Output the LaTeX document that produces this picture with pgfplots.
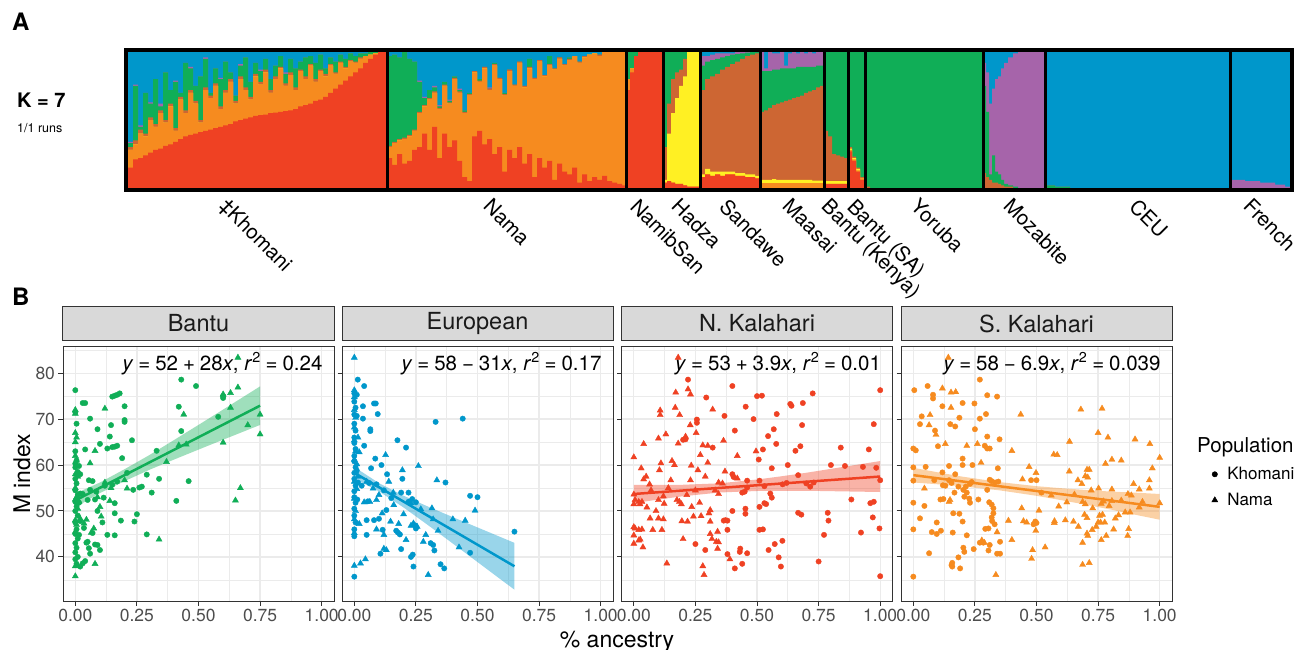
\documentclass[border=0pt]{standalone}
\usepackage{fontspec}
\setmainfont{TeX Gyre Heros}
\usepackage{pgfplots}
\pgfplotsset{compat=1.18}
\usepackage{pgfplotstable}
\definecolor{cRed}{HTML}{EF4123}
\definecolor{cOrange}{HTML}{F68B1F}
\definecolor{cYellow}{HTML}{FFF023}
\definecolor{cBrown}{HTML}{CD6633}
\definecolor{cGreen}{HTML}{10AE57}
\definecolor{cPurple}{HTML}{A664AA}
\definecolor{cBlue}{HTML}{0097CB}
\definecolor{grid92}{HTML}{EBEBEB}
\definecolor{g20}{HTML}{333333}
\definecolor{g30}{HTML}{4D4D4D}
\definecolor{g85}{HTML}{D9D9D9}
\definecolor{g10}{HTML}{1A1A1A}

\pgfplotstableread{
x cr co cy cb cg cp
128 .15 .28 .28 .30 .33 .34
133 .21 .32 .32 .35 .75 .76
138 .22 .40 .40 .43 .45 .46
143 .24 .38 .38 .40 .70 .70
148 .26 .50 .50 .52 .62 .63
153 .28 .45 .45 .47 .80 .80
158 .29 .55 .55 .57 .60 .62
163 .31 .48 .48 .50 .85 .85
168 .32 .60 .60 .62 .72 .72
173 .34 .42 .42 .44 .78 .79
178 .36 .65 .65 .67 .70 .70
183 .38 .55 .55 .57 .92 .92
188 .39 .70 .70 .72 .88 .89
193 .40 .62 .62 .64 .75 .75
198 .41 .48 .48 .50 .82 .82
203 .42 .72 .72 .74 .95 .96
208 .43 .66 .66 .68 .70 .70
213 .44 .75 .75 .77 .88 .88
218 .45 .58 .58 .60 .80 .81
223 .46 .70 .70 .72 .93 .93
228 .47 .78 .78 .80 .85 .85
233 .49 .62 .62 .64 .68 .68
238 .50 .80 .80 .82 .90 .91
243 .51 .72 .72 .74 .96 .96
248 .52 .65 .65 .67 .78 .78
253 .53 .82 .82 .84 .92 .92
258 .535 .76 .76 .78 .86 .87
263 .54 .85 .85 .87 .95 .95
268 .55 .70 .70 .72 .80 .80
273 .555 .80 .80 .82 .90 .90
278 .56 .88 .88 .89 .97 .97
283 .565 .75 .75 .77 .84 .85
288 .57 .83 .83 .85 .95 .95
293 .58 .72 .72 .74 .88 .88
298 .60 .86 .86 .87 .93 .93
303 .61 .80 .80 .82 .96 .96
308 .62 .90 .90 .91 .97 .97
313 .64 .78 .78 .80 .92 .92
318 .65 .86 .86 .87 .98 .98
323 .67 .82 .82 .84 .88 .88
328 .70 .90 .90 .91 .96 .96
333 .73 .84 .84 .85 .93 .93
338 .76 .92 .92 .93 .98 .98
343 .79 .88 .88 .89 .95 .95
348 .82 .93 .93 .94 .99 .99
353 .85 .92 .92 .93 .97 .97
358 .88 .95 .95 .96 .99 .99
363 .92 .97 .97 .97 .99 .99
368 .95 .98 .98 .98 1 1
373 .98 .99 .99 .99 1 1
378 1 1 1 1 1 1
383 1 1 1 1 1 1
387 .22 .30 .30 .31 .97 .97
392 .17 .33 .33 .34 .98 .98
397 .25 .35 .35 .36 .96 .96
402 .18 .36 .36 .37 1 1
407 .20 .38 .38 .39 .95 .95
412 .28 .42 .42 .43 .93 .93
417 .30 .55 .55 .56 .78 .79
422 .40 .60 .60 .61 .66 .67
427 .28 .65 .65 .66 .72 .72
432 .45 .70 .70 .71 .74 .75
437 .22 .58 .58 .59 .60 .61
442 .40 .75 .75 .76 .78 .78
447 .30 .62 .62 .63 .64 .65
452 .35 .80 .80 .81 .82 .82
457 .20 .70 .70 .71 .72 .73
462 .08 .55 .55 .56 .57 .57
467 .05 .68 .68 .69 .70 .70
472 .38 .85 .85 .86 .86 .86
477 .42 .78 .78 .79 .80 .80
482 .32 .88 .88 .89 .89 .89
487 .36 .72 .72 .73 .73 .74
492 .25 .90 .90 .91 .92 .92
497 .30 .80 .80 .81 .81 .81
502 .12 .68 .68 .69 .70 .70
507 .28 .86 .86 .87 .87 .87
512 .22 .75 .75 .76 .76 .76
517 .30 .92 .92 .93 .93 .93
522 .18 .74 .74 .75 .75 .75
527 .25 .88 .88 .89 .95 .95
532 .08 .80 .80 .81 .81 .81
537 .22 .93 .93 .94 .94 .94
542 .15 .82 .82 .83 .83 .83
547 .20 .90 .90 .91 .97 .97
552 .06 .87 .87 .88 .88 .88
557 .18 .95 .95 .96 .96 .96
562 .12 .90 .90 .91 .91 .91
567 .10 .94 .94 .95 .96 .96
572 .15 .97 .97 .97 .97 .97
577 .04 .92 .92 .93 .93 .93
582 .10 .96 .96 .97 .97 .97
587 .05 .98 .98 .98 .98 .98
592 .08 .99 .99 .99 .99 .99
597 .06 .97 .97 .98 .98 .98
602 .09 1 1 1 1 1
607 .05 1 1 1 1 1
612 .04 1 1 1 1 1
617 .03 1 1 1 1 1
622 .02 1 1 1 1 1
626 .72 .80 .80 .80 1 1
630 .85 .88 .88 .88 1 1
634 .97 .97 .97 .97 1 1
638 1 1 1 1 1 1
663 .04 .04 .06 .30 1 1
667 .05 .05 .40 .62 1 1
671 .04 .04 .55 .80 1 1
675 .03 .03 .66 .85 1 1
679 .03 .03 .75 .87 1 1
683 .02 .02 .82 .95 1 1
687 .01 .01 1 1 1 1
700 .08 .08 .10 .72 .90 .97
705 .10 .10 .14 .80 .93 .97
710 .09 .09 .12 .82 .94 .98
715 .10 .10 .12 .84 .95 .99
720 .09 .09 .12 .87 .96 .99
725 .10 .10 .12 .89 .97 .99
730 .10 .10 .12 .91 .98 .99
735 .09 .09 .11 .93 .985 1
740 .09 .09 .11 .95 .99 1
745 .08 .08 .10 .97 .995 1
750 .08 .08 .10 .98 1 1
755 .07 .07 .09 .99 1 1
760 0 .035 .06 .56 .86 1
764 0 .035 .06 .57 .86 .88
768 0 .035 .06 .59 .86 1
772 0 .035 .065 .61 .87 .99
776 0 .035 .06 .62 .87 .99
780 0 .035 .06 .63 .88 1
784 0 .035 .06 .64 .88 .90
788 0 .035 .06 .65 .88 .99
792 0 .035 .06 .66 .88 1
796 0 .035 .06 .67 .89 .99
800 0 .035 .06 .68 .89 1
804 0 .035 .06 .70 .89 .99
808 0 .035 .06 .71 .89 1
812 0 .035 .055 .72 .89 .99
816 0 .035 .055 .74 .90 1
820 0 .035 .055 .75 .90 1
824 .03 .03 .05 .42 1 1
828 .03 .03 .05 .38 1 1
832 .03 .03 .05 .25 1 1
836 .03 .03 .05 .24 1 1
840 .03 .03 .05 .23 1 1
844 .03 .03 .05 .22 1 1
848 .27 .28 .29 .30 1 1
852 .20 .21 .22 .23 1 1
856 .12 .13 .14 .15 1 1
860 .06 .07 .07 .08 1 1
865 0 0 0 .01 1 1
870 0 0 0 0 1 1
983 0 0 0 .11 .75 .92
986 0 0 0 .08 .56 .85
989 0 0 0 .06 .10 .62
992 0 0 0 .04 .24 .73
995 0 0 0 .04 .12 .80
998 0 0 0 .03 .10 .82
1001 0 0 0 .02 .06 .88
1004 0 0 0 .01 .03 .92
1008 0 0 0 .01 .02 .96
1013 0 0 0 0 .01 .99
1018 0 0 0 0 0 1
1045 0 0 0 0 .02 .02
1055 0 0 0 0 .01 .01
1070 0 0 0 0 0 0
1230 0 0 0 0 0 .06
1245 0 0 0 0 0 .05
1260 0 0 0 0 0 .04
1275 0 0 0 0 0 .025
1285 0 0 0 0 0 .01
1290 0 0 0 0 0 .01
}\admix

\newcommand{\eqsp}{\hspace{0.24em}}
\tikzset{eq/.style={anchor=base east, inner sep=0pt, font=\fontsize{20.5}{22}\selectfont}}
\pgfplotsset{
  sk/.style={
    scale only axis, width=271pt, height=254pt,
    xmin=-0.05, xmax=1.05, ymin=30.4, ymax=85.7,
    xtick={0,0.25,0.5,0.75,1}, xticklabels={0.00,0.25,0.50,0.75,1.00},
    ytick={40,50,60,70,80},
    minor xtick={0.125,0.375,0.625,0.875},
    minor ytick={35,45,55,65,75,85},
    grid=both,
    major grid style={grid92, line width=1.3pt},
    minor grid style={grid92, line width=0.65pt},
    axis line style={g20, line width=1pt},
    tick align=outside, major tick length=4.5pt, minor tick length=0pt,
    tick pos=left,
    tick style={g20, line width=1pt},
    ticklabel style={font=\fontsize{17.5}{20}\selectfont, text=g30},
    /pgf/number format/assume math mode=true,
    title style={at={(0.5,1)}, anchor=south, minimum width=271pt, minimum height=34pt,
      inner sep=0pt, fill=g85, draw=g20, line width=1pt,
      font=\fontsize{23.5}{25}\selectfont, text=g10},
  },
  circ/.style={only marks, mark=*, mark size=2.7pt, #1, mark options={draw=none, fill=#1}, forget plot},
  tri/.style={only marks, mark=triangle*, mark size=3.5pt, #1, mark options={draw=none, fill=#1}, forget plot},
  band/.style={fill=#1, draw=none, fill opacity=0.4, forget plot},
  fit/.style={#1, line width=2.5pt, forget plot},
}

\begin{document}
\begin{tikzpicture}
\path[use as bounding box] (0,0) rectangle (1298pt,-650pt);

% ---------- Panel A ----------
\begin{axis}[at={(126pt,-190pt)}, anchor=south west, scale only axis,
  width=1165.5pt, height=140pt, xmin=126, xmax=1291.5, ymin=-0.0147, ymax=1.0147,
  xtick=\empty, ytick=\empty, axis line style={line width=4pt, black}, axis on top,
  extra x ticks={387,626,663,700,760,824,848,865,983,1045,1230}, extra x tick labels={},
  extra x tick style={grid=major, major grid style={line width=3pt, black}, major tick length=0pt}]
\addplot[const plot, fill=cBlue, draw=none] coordinates {(128,1) (1290,1)} \closedcycle;
\addplot[const plot, fill=cPurple, draw=none] table[x=x,y=cp]{\admix} \closedcycle;
\addplot[const plot, fill=cGreen, draw=none] table[x=x,y=cg]{\admix} \closedcycle;
\addplot[const plot, fill=cBrown, draw=none] table[x=x,y=cb]{\admix} \closedcycle;
\addplot[const plot, fill=cYellow, draw=none] table[x=x,y=cy]{\admix} \closedcycle;
\addplot[const plot, fill=cOrange, draw=none] table[x=x,y=co]{\admix} \closedcycle;
\addplot[const plot, fill=cRed, draw=none] table[x=x,y=cr]{\admix} \closedcycle;
\end{axis}

\node[anchor=north west, inner sep=0pt, font=\bfseries\fontsize{24}{26}\selectfont] at (12pt,-13pt) {A};
\node[anchor=base west, inner sep=0pt, font=\bfseries\fontsize{20}{22}\selectfont] at (17pt,-108pt) {K = 7};
\node[anchor=base west, inner sep=0pt, font=\fontsize{12.5}{14}\selectfont] at (17pt,-133pt) {1/1 runs};

\begin{scope}[every node/.style={rotate=-45, anchor=north west, inner sep=0pt, font=\fontsize{20.5}{22}\selectfont}]
\node at (229pt,-197pt) {‡Khomani};
\node at (493pt,-197pt) {Nama};
\node at (640pt,-197pt) {NamibSan};
\node at (681pt,-197pt) {Hadza};
\node at (729pt,-197pt) {Sandawe};
\node at (792pt,-197pt) {Maasai};
\node at (831pt,-197pt) {Bantu (Kenya)};
\node at (857pt,-197pt) {Bantu (SA)};
\node at (920pt,-197pt) {Yoruba};
\node at (1013pt,-197pt) {Mozabite};
\node at (1139pt,-197pt) {CEU};
\node at (1253pt,-197pt) {French};
\end{scope}

\node[anchor=north west, inner sep=0pt, font=\bfseries\fontsize{24}{26}\selectfont] at (12pt,-288pt) {B};

% ---------- Panel B1: Bantu ----------
\begin{axis}[sk, at={(63pt,-601pt)}, anchor=south west, title={Bantu}]
\addplot[circ=cGreen] coordinates {
(0,76.3)(0,71.5)(0.005,69)(0,63)(0.005,61)(0,59.5)(0.01,58.5)(0,57)(0.005,56)(0,54.5)(0.01,53.5)(0,52)(0.005,51)(0,50)(0.01,49)(0,47.5)(0.005,46)(0,45)(0.01,44)(0,43)(0.005,42)(0,41)(0.01,40)(0,39.5)(0.005,38.5)(0,60.3)(0.015,59.8)(0.02,58)(0.02,53.8)(0.015,51.8)(0.02,47.8)(0.015,44.8)
(0.03,73.5)(0.04,73.5)(0.06,70.1)(0.09,67.8)(0.04,63.4)(0.10,64.6)(0.15,74.9)(0.16,75.1)(0.17,75.3)(0.18,75.6)(0.20,72.8)(0.20,69.8)(0.20,69.4)(0.145,68.7)(0.14,66.2)(0.13,63.6)(0.15,63.9)(0.16,64)(0.17,64.2)(0.23,65.4)(0.19,61.5)(0.21,58.3)(0.17,56.4)(0.15,55.7)(0.29,57.9)(0.34,57)(0.33,63.1)(0.43,67.4)(0.42,72.7)(0.43,78.6)(0.49,77.2)(0.58,70.5)(0.60,75)(0.60,74.6)(0.46,56.5)(0.41,52.2)(0.31,54)(0.27,55.3)(0.26,55.1)(0.235,54.6)(0.25,49.3)(0.24,47.7)(0.16,51.7)(0.16,49.5)(0.185,47.9)(0.13,44.8)(0.16,44.7)(0.29,44.9)(0.11,47.5)(0.09,50)(0.09,42.6)(0.10,41.5)(0.055,41.9)(0.05,43.3)(0.045,43.1)(0.06,40.7)(0.03,38.6)(0.04,39.1)(0.02,37.9)(0.07,56.5)(0.055,56.7)(0.06,54.6)(0.05,52.4)(0.08,52.5)(0.085,54.2)(0.115,52.9)(0.03,53.7)(0.07,45.2)(0.08,42.7)(0.035,46.3)(0.12,55.5)
};
\addplot[tri=cGreen] coordinates {
(0,72)(0,71.2)(0,67)(0.005,66)(0,65)(0,62)(0.005,61)(0,58)(0,55)(0.005,53)(0,52.5)(0,48)(0.005,47)(0,45.5)(0,38)(0,35.8)(0.01,50.5)(0.01,57.5)(0.02,48.3)(0.015,52)
(0.66,83.4)(0.66,76.9)(0.63,75.7)(0.60,75.4)(0.63,72.5)(0.44,71)(0.75,71)(0.70,68.7)(0.75,66.7)(0.60,64.9)(0.42,64.3)(0.45,64.5)(0.37,60.7)(0.20,56.7)(0.21,54.9)(0.12,56.2)(0.145,55)(0.14,52.2)(0.67,55)(0.65,52.3)(0.34,43.8)(0.075,46.2)(0.06,60.4)(0.08,63.1)(0.12,72.3)(0.10,50.9)(0.105,48.8)(0.08,38.5)(0.035,47.3)(0.045,48.1)(0.09,53)(0.065,45.3)
};
\addplot[band=cGreen] coordinates {(0,53.8)(0.1,56.2)(0.2,59.1)(0.3,62.15)(0.4,65.42)(0.5,68.74)(0.6,72.08)(0.75,77.13)(0.75,68.73)(0.6,65.52)(0.5,63.36)(0.4,61.18)(0.3,58.95)(0.2,56.5)(0.1,53.9)(0,50.8)};
\addplot[fit=cGreen] coordinates {(0,52.3)(0.75,72.93)};
\node[eq] at (axis cs:1.004,80.6) {\textit{y}\eqsp=\eqsp52\eqsp+\eqsp28\textit{x}, \textit{r}\textsuperscript{2}\eqsp=\eqsp0.24};
\end{axis}

% ---------- Panel B2: European ----------
\begin{axis}[sk, at={(342pt,-601pt)}, anchor=south west, title={European}, yticklabels={}]
\addplot[circ=cBlue] coordinates {
(0,75.6)(0,73.8)(0.005,72.5)(0,71)(0,69)(0.005,67.5)(0,66)(0,64.8)(0.005,63.5)(0,62)(0,60.8)(0.005,59.5)(0,58.3)(0,57)(0.005,55.5)(0,54.3)(0,53)(0.005,51.8)(0,50.5)(0,49)(0.005,47.5)(0,46)(0,44.5)(0,35.7)(0.01,58.8)(0.015,56.2)(0.012,52.5)
(0.014,78.6)(0.04,77.2)(0.01,75.3)(0.035,72.8)(0.08,73.4)(0.087,73.4)(0.095,71.1)(0.035,70.1)(0.01,70.7)(0.065,67.8)(0.065,67.4)(0.33,69.4)(0.44,70.1)(0.175,65.4)(0.21,63.8)(0.04,64.2)(0.085,61.4)(0.11,60)(0.068,59.3)(0.195,57)(0.133,58)(0.37,56.2)(0.47,53.3)(0.50,53)(0.65,45.5)(0.47,40.9)(0.35,38.4)(0.365,37.5)(0.24,37.9)(0.23,40)(0.237,40.5)(0.19,41.7)(0.106,40.7)(0.05,44.8)(0.05,48)(0.08,48)(0.1,48.3)(0.17,45.7)(0.177,45.3)(0.185,44.9)(0.19,54)(0.22,54)(0.22,52)(0.235,52.6)(0.25,51.9)(0.31,43)(0.32,42.6)(0.325,41.4)(0.25,46.2)(0.245,46.9)(0.115,45.9)(0.03,55.5)(0.06,56.1)(0.09,55.8)(0.12,54.5)(0.15,52.8)(0.13,50.2)(0.055,52.1)
};
\addplot[tri=cBlue] coordinates {
(0,83.4)(0,76.3)(0,74.8)(0,72)(0.005,70.3)(0,68.2)(0,65.4)(0.005,63)(0,61.2)(0.01,60.2)(0,56.4)(0.01,54.8)(0,52.7)(0.005,50)(0,48.2)(0,45.2)(0,38.1)(0.015,57.5)(0.02,62.8)(0.015,66)
(0.127,62.2)(0.26,59.8)(0.335,56.7)(0.195,58.9)(0.14,56.4)(0.09,52.4)(0.063,52)(0.04,51.9)(0.05,56.4)(0.10,53.5)(0.113,49.5)(0.147,47.7)(0.13,41.5)(0.12,41.8)(0.09,46)(0.02,47.2)(0.045,39.5)(0.025,38.6)(0.30,36.1)(0.12,44.8)(0.21,43.7)(0.24,47.3)(0.255,46.6)(0.29,44.8)(0.315,50.6)(0.34,45.7)(0.40,48.2)(0.45,47.9)(0.49,50.1)(0.425,42.1)(0.32,48.2)(0.23,51.7)(0.27,50.4)(0.16,51.3)(0.20,49.3)(0.158,54)(0.076,54.9)(0.18,47.2)(0.23,46.8)(0.28,43.3)
};
\addplot[band=cBlue] coordinates {(0,59.58)(0.1,56.07)(0.2,53.32)(0.3,50.94)(0.4,48.66)(0.5,46.42)(0.65,43.06)(0.65,32.86)(0.5,38.88)(0.4,42.9)(0.3,46.88)(0.2,50.76)(0.1,54.27)(0,57.02)};
\addplot[fit=cBlue] coordinates {(0,58.3)(0.65,37.96)};
\node[eq] at (axis cs:1.004,80.6) {\textit{y}\eqsp=\eqsp58\eqsp−\eqsp31\textit{x}, \textit{r}\textsuperscript{2}\eqsp=\eqsp0.17};
\end{axis}

% ---------- Panel B3: N. Kalahari ----------
\begin{axis}[sk, at={(621.5pt,-601pt)}, anchor=south west, title={N. Kalahari}, yticklabels={}]
\addplot[tri=cRed] coordinates {
(0.18,83.4)(0,61.7)(0.17,75.8)(0.22,76.5)(0.23,75.4)(0.107,71.9)(0.107,70.9)(0.168,72.5)(0.186,70.9)(0.32,72.1)(0.04,64.6)(0.10,65.8)(0.13,66.7)(0.18,64.7)(0.229,68.7)(0.253,67)(0.21,66.2)(0.28,64.3)(0.30,64.2)(0.27,62.2)(0.364,65.3)(0.42,62)(0.496,63)(0.11,60.4)(0.155,60.9)(0.165,60)(0.104,58.9)(0.03,59.3)(0.233,59.9)(0.30,60.5)(0.26,58.9)(0.37,58.6)(0.04,56.9)(0.15,56.7)(0.064,55.8)(0.23,56.7)(0.29,57.5)(0.344,56.2)(0.42,57.1)(0,53.6)(0.005,52.4)(0,51.5)(0.02,52)(0.025,51.5)(0.033,52)(0.053,50.8)(0.1,52.4)(0.12,53.2)(0.123,51.6)(0.175,52.4)(0.185,52)(0.193,51.5)(0.215,53.5)(0.235,50.9)(0.267,51.8)(0.305,49.5)(0.31,50.2)(0.344,53.7)(0.066,48.4)(0.12,48.2)(0.10,48.4)(0.195,47.8)(0.218,47.7)(0.242,48.8)(0.273,48.9)(0.31,47.7)(0,46.5)(0.005,46.2)(0.02,45.9)(0.033,46)(0,44.7)(0,42.9)(0.02,43.6)(0.026,43.8)(0.037,42.1)(0.077,45.9)(0.114,45.9)(0.2,43.9)(0.317,43.9)(0.335,43.3)(0.34,41.8)(0.344,43.2)(0.31,45)(0.39,39.5)(0.134,38.6)(0.28,38)(0.285,36.1)(0.34,45.5)(0.36,56)(0.05,57.5)(0.07,54.5)(0.09,50)(0.14,55)(0.25,54.5)(0.33,54.5)
};
\addplot[circ=cRed] coordinates {
(0.22,78.6)(0.40,77.2)(0.294,74.7)(0.50,75)(0.52,75.1)(0.454,72.7)(0.368,70.7)(0.486,70)(0.635,73.3)(0.64,72.9)(0.686,73.5)(0.726,75.6)(1.0,76.3)(0.58,71.1)(0.256,69.9)(0.256,69.2)(0.41,67.5)(0.545,66.3)(0.568,67.8)(0.578,64.6)(0.524,63.4)(0.683,68.7)(0.974,68.9)(0.656,63.1)(0.676,64.1)(0.84,63.8)(0.954,63.4)(0.32,63.8)(0.2,65.5)(0.21,65.6)(0.507,61.2)(0.625,60)(0.56,59.3)(0.8,60)(0.857,59.8)(0.93,59.6)(0.984,59.4)(1.0,56.7)(0.667,57.8)(0.73,56.2)(0.716,55.3)(0.51,56.6)(0.46,56.6)(0.46,55.1)(0.40,58)(0.405,57.4)(0.44,54)(0.45,54.2)(0.554,53.8)(0.56,52.9)(0.53,51.7)(0.537,51.5)(0.453,50.5)(0.453,49.4)(0.40,50)(0.38,47.9)(0.365,47.9)(0.372,48)(0.604,55.8)(0.96,51.7)(0.974,52)(0.883,52.5)(0.97,48.6)(0.997,46.2)(0.922,45.3)(0.772,44.8)(0.79,47.9)(0.787,49.6)(0.667,49.6)(0.68,49.2)(0.524,46)(0.51,45.9)(0.38,45.9)(0.25,42.8)(0.29,41.5)(0.43,41.1)(0.432,41.8)(0.46,40.8)(0.38,40.6)(0.41,37.5)(0.44,38.5)(0.547,41.5)(0.572,42.8)(0.603,43.5)(0.588,39.9)(0.597,37.9)(0.75,39)(1.0,35.8)(0.51,50.9)(0.62,56.1)(0.70,56.0)(0.53,55.4)
};
\addplot[band=cRed] coordinates {(0,55.7)(0.1,55.66)(0.2,55.71)(0.35,56.03)(0.5,56.85)(0.6,57.56)(0.7,58.32)(0.8,59.17)(0.9,60.02)(1,60.87)(1,54.13)(0.9,54.22)(0.8,54.31)(0.7,54.4)(0.6,54.4)(0.5,54.35)(0.35,54.03)(0.2,53.21)(0.1,52.5)(0,51.7)};
\addplot[fit=cRed] coordinates {(0,53.7)(1,57.5)};
\node[eq] at (axis cs:1.004,80.6) {\textit{y}\eqsp=\eqsp53\eqsp+\eqsp3.9\textit{x}, \textit{r}\textsuperscript{2}\eqsp=\eqsp0.01};
\end{axis}

% ---------- Panel B4: S. Kalahari ----------
\begin{axis}[sk, at={(901pt,-601pt)}, anchor=south west, title={S. Kalahari}, yticklabels={},
  legend style={at={(1.146,0.527)}, anchor=north west, draw=none, fill=none,
    font=\fontsize{17}{19}\selectfont, row sep=12pt, inner sep=0pt,
    nodes={inner sep=0pt},
    /tikz/every odd column/.append style={column sep=9.5pt}},
  legend image code/.code={\draw[#1] plot coordinates {(0pt,0pt)};},
  legend cell align=left]
\addplot[circ=cOrange] coordinates {
(0.004,76.3)(0.058,77.2)(0.08,75.3)(0.08,74.5)(0.118,72.8)(0.2,73.5)(0.248,73.4)(0.27,78.6)(0.30,75.2)(0.34,74.9)(0.034,70.6)(0.027,68.9)(0.15,68.9)(0.17,68.4)(0.187,70.3)(0.27,70.1)(0.295,71.1)(0.25,67.8)(0.088,67.5)(0.1,64.1)(0,63.6)(0.01,63.2)(0.29,64.2)(0.3,63.6)(0.31,63.6)(0.30,66.2)(0.35,65.6)(0.2,61.4)(0.2,60)(0.24,60)(0.145,59.8)(0.343,59.3)(0,59.5)(0,56.6)(0.05,59.6)(0.085,56.7)(0.118,58.4)(0.12,55.6)(0.13,55.5)(0.145,56.7)(0.155,56.1)(0.17,58)(0.183,55.3)(0.213,55.3)(0.203,54.6)(0.217,54)(0.23,55.9)(0.237,56.3)(0.31,56.8)(0.318,56.5)(0.332,56.2)(0.345,56.4)(0.30,54.6)(0.207,53.1)(0.227,52.7)(0.23,51.8)(0.264,52.5)(0.167,54)(0.11,52.5)(0.122,52.6)(0,51.8)(0.045,51.1)(0.308,51.9)(0.318,51.4)(0.325,50.6)(0.325,49.5)(0.318,48.6)(0.32,47.8)(0.33,47.1)(0.027,48.4)(0.162,49.5)(0.187,49.4)(0.2,47.7)(0.095,47.5)(0,46)(0.075,45.4)(0.095,45)(0.112,45.7)(0.16,45.3)(0.217,44.7)(0.292,46.1)(0.305,46.2)(0.27,43.1)(0.284,43.1)(0.31,42.6)(0.352,43.3)(0.203,42.0)(0.207,41.1)(0.245,41.7)(0.305,41.4)(0.34,40.7)(0.352,40.7)(0.064,40.8)(0.183,39.9)(0.158,38.7)(0.155,38.2)(0.158,37.9)(0.19,37.5)(0,35.7)(0.5,56.7)(0.478,56.7)(0.52,54)(0.495,47.7)(0.5,47.4)(0.488,47.1)
};
\addplot[tri=cOrange] coordinates {
(0.142,83.4)(0.118,76.7)(0.153,75.8)(0.172,75.9)(0.068,70.9)(0.064,68.7)(0.153,72.5)(0.092,66.6)(0.13,64.6)(0.217,64.2)(0.26,64.6)(0.275,60.5)(0.149,52.4)(0.145,52)(0.045,54.9)(0.436,71)(0.40,63.1)(0.47,59.6)(0.498,58.3)(0.443,56.9)(0.44,50.6)(0.51,50.1)(0.386,47.9)(0.447,47.8)(0.46,47.5)(0.497,45.7)(0.40,43.7)(0.484,41.5)(0.48,39.6)(0.535,42.1)(0.335,36.1)(0.278,43.6)(0.288,43.1)(0.34,45.4)(0.57,62.3)(0.584,62.2)(0.634,65.1)(0.633,58.6)(0.68,72.1)(0.766,72.3)(0.75,67)(0.79,66)(0.9,65.6)(0.96,64.6)(0.806,61.2)(0.78,60.3)(0.844,61)(1.0,61.6)(0.97,59.3)(0.958,56.7)(0.958,54.9)(0.894,55.9)(0.917,54.7)(0.871,53.7)(0.885,53.4)(0.806,54.7)(0.752,54.9)(0.722,54.5)(0.705,59)(0.714,59)(0.698,57.6)(0.708,57.3)(0.668,56.7)(0.684,55.9)(0.654,53.6)(0.623,51.9)(0.687,52)(0.698,51.5)(0.728,50.6)(0.763,51.6)(0.772,52.1)(0.806,52.2)(0.795,51.1)(0.844,52.3)(0.86,49.7)(0.88,49.7)(0.917,50.8)(1.0,51.7)(0.756,49)(0.768,49.2)(0.695,49.2)(0.705,48.5)(0.82,48.4)(0.833,49.1)(0.67,46.6)(0.742,46.6)(0.726,45.9)(0.75,47.5)(0.76,47.5)(0.777,47.5)(0.813,46)(0.874,46.1)(0.783,44.6)(0.763,43.7)(0.705,45.1)(0.708,44.6)(0.87,44.6)(0.687,43.1)(0.573,47.8)(0.572,47.4)(0.617,48)(0.65,47.7)(0.687,38.3)(0.714,38.7)(0.56,53.4)(0.59,51)(0.93,52)
};
\addplot[band=cOrange] coordinates {(0,59.4)(0.1,58.41)(0.2,57.47)(0.35,56.29)(0.5,55.4)(0.6,54.96)(0.7,54.57)(0.8,54.23)(0.9,53.99)(1,53.7)(1,48.1)(0.9,49.19)(0.8,50.33)(0.7,51.37)(0.6,52.36)(0.5,53.3)(0.35,54.49)(0.2,55.37)(0.1,55.81)(0,56.2)};
\addplot[fit=cOrange] coordinates {(0,57.8)(1,50.9)};
\node[eq] at (axis cs:1.004,80.6) {\textit{y}\eqsp=\eqsp58\eqsp−\eqsp6.9\textit{x}, \textit{r}\textsuperscript{2}\eqsp=\eqsp0.039};
\addlegendimage{only marks, mark=*, mark size=2.7pt, black}
\addlegendentry{Khomani}
\addlegendimage{only marks, mark=triangle*, mark size=3.5pt, black}
\addlegendentry{Nama}
\end{axis}

\node[anchor=west, inner sep=0pt, font=\fontsize{20.5}{22}\selectfont] at (1197pt,-447pt) {Population};
\node[rotate=90, inner sep=0pt, font=\fontsize{23}{25}\selectfont] at (22pt,-474pt) {M index};
\node[anchor=base, inner sep=0pt, font=\fontsize{23}{25}\selectfont] at (617pt,-647pt) {\% ancestry};
\end{tikzpicture}
\end{document}
